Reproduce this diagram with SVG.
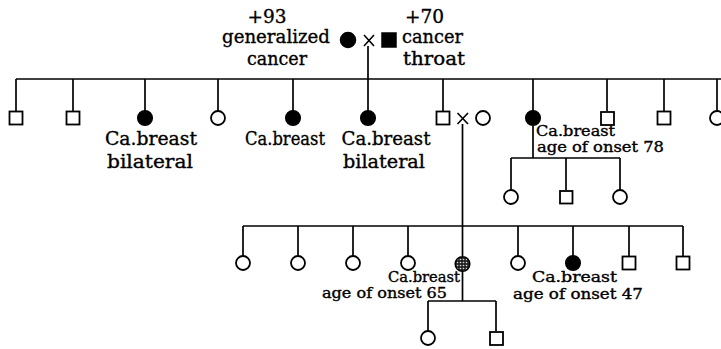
<svg xmlns="http://www.w3.org/2000/svg" width="721" height="349" viewBox="0 0 721 349">
<style>
.bg{fill:#fff}
.ln{stroke:#000;stroke-width:1.7;fill:none}
.m{fill:#fff;stroke:#000;stroke-width:1.8}
.f{fill:#000;stroke:#000;stroke-width:1.5}
.x{stroke:#000;stroke-width:1.6;fill:none}
.s{fill:url(#stip);stroke:#000;stroke-width:1.5}
text{font-family:"DejaVu Serif","Liberation Serif",serif;fill:#000;stroke:#000;stroke-width:0.35}
.t1{font-size:18.5px}
.t2{font-size:14px}
</style>
<defs>
<pattern id="stip" width="3" height="3" patternUnits="userSpaceOnUse">
<rect width="3" height="3" fill="#222"/>
<circle cx="1.5" cy="1.5" r="0.8" fill="#ddd"/>
</pattern>
</defs>
<rect class="bg" width="721" height="349"/>

<g id="connectors">
<line class="ln" x1="368" y1="46" x2="368" y2="79"/>
<line class="ln" x1="16" y1="79" x2="721" y2="79"/>
<line class="ln" x1="16" y1="79" x2="16" y2="111"/>
<line class="ln" x1="73" y1="79" x2="73" y2="111"/>
<line class="ln" x1="145" y1="79" x2="145" y2="111"/>
<line class="ln" x1="218" y1="79" x2="218" y2="111"/>
<line class="ln" x1="293" y1="79" x2="293" y2="111"/>
<line class="ln" x1="368" y1="79" x2="368" y2="111"/>
<line class="ln" x1="443" y1="79" x2="443" y2="111"/>
<line class="ln" x1="533" y1="79" x2="533" y2="111"/>
<line class="ln" x1="607" y1="79" x2="607" y2="111"/>
<line class="ln" x1="664" y1="79" x2="664" y2="111"/>
<line class="ln" x1="717" y1="79" x2="717" y2="111"/>
<line class="ln" x1="533" y1="126" x2="533" y2="158"/>
<line class="ln" x1="511" y1="158" x2="620" y2="158"/>
<line class="ln" x1="511" y1="158" x2="511" y2="190"/>
<line class="ln" x1="566" y1="158" x2="566" y2="190"/>
<line class="ln" x1="620" y1="158" x2="620" y2="190"/>
<line class="ln" x1="462.5" y1="124" x2="462.5" y2="256"/>
<line class="ln" x1="243" y1="226" x2="683" y2="226"/>
<line class="ln" x1="243" y1="226" x2="243" y2="256"/>
<line class="ln" x1="298" y1="226" x2="298" y2="256"/>
<line class="ln" x1="353" y1="226" x2="353" y2="256"/>
<line class="ln" x1="408" y1="226" x2="408" y2="256"/>
<line class="ln" x1="518" y1="226" x2="518" y2="256"/>
<line class="ln" x1="573" y1="226" x2="573" y2="256"/>
<line class="ln" x1="629" y1="226" x2="629" y2="256"/>
<line class="ln" x1="683" y1="226" x2="683" y2="256"/>
<line class="ln" x1="462.5" y1="271" x2="462.5" y2="301"/>
<line class="ln" x1="428" y1="301" x2="496" y2="301"/>
<line class="ln" x1="428" y1="301" x2="428" y2="331"/>
<line class="ln" x1="496" y1="301" x2="496" y2="331"/>
</g>

<g id="grandparents">
<circle class="f" cx="348" cy="40" r="7.5"/>
<path class="x" d="M364 35 L374 46 M374 35 L364 46"/>
<rect class="f" x="382" y="33" width="14" height="14"/>
<text class="t1" x="267" y="23" text-anchor="middle">+93</text>
<text class="t1" x="276" y="43" text-anchor="middle" textLength="108" lengthAdjust="spacingAndGlyphs">generalized</text>
<text class="t1" x="277" y="65" text-anchor="middle" textLength="60" lengthAdjust="spacingAndGlyphs">cancer</text>
<text class="t1" x="405" y="23">+70</text>
<text class="t1" x="402" y="43" textLength="61" lengthAdjust="spacingAndGlyphs">cancer</text>
<text class="t1" x="403" y="65" textLength="62" lengthAdjust="spacingAndGlyphs">throat</text>
</g>

<g id="g2-1"><rect class="m" x="9.5" y="111.5" width="13" height="13"/></g>
<g id="g2-2"><rect class="m" x="66.5" y="111.5" width="13" height="13"/></g>
<g id="g2-3"><circle class="f" cx="145" cy="118" r="7.3"/>
<text class="t1" x="151" y="145" text-anchor="middle" textLength="92" lengthAdjust="spacingAndGlyphs">Ca.breast</text>
<text class="t1" x="150" y="168" text-anchor="middle" textLength="86" lengthAdjust="spacingAndGlyphs">bilateral</text></g>
<g id="g2-4"><circle class="m" cx="218" cy="118" r="7"/></g>
<g id="g2-5"><circle class="f" cx="293" cy="118" r="7.3"/>
<text class="t1" x="285" y="145" text-anchor="middle" textLength="80" lengthAdjust="spacingAndGlyphs">Ca.breast</text></g>
<g id="g2-6"><circle class="f" cx="368" cy="118" r="7.3"/>
<text class="t1" x="386" y="145" text-anchor="middle" textLength="89" lengthAdjust="spacingAndGlyphs">Ca.breast</text>
<text class="t1" x="384" y="168" text-anchor="middle" textLength="82" lengthAdjust="spacingAndGlyphs">bilateral</text></g>
<g id="g2-7"><rect class="m" x="436.5" y="111.5" width="13" height="13"/></g>
<g id="marriage-x"><path class="x" d="M457.5 113 L468 124 M468 113 L457.5 124"/></g>
<g id="g2-7-spouse"><circle class="m" cx="483" cy="118" r="7"/></g>
<g id="g2-8"><circle class="f" cx="533" cy="118" r="7.3"/>
<text class="t2" x="536" y="136" textLength="79" lengthAdjust="spacingAndGlyphs">Ca.breast</text>
<text class="t2" x="537" y="152" textLength="127" lengthAdjust="spacingAndGlyphs">age of onset 78</text></g>
<g id="g2-9"><rect class="m" x="601" y="112" width="13" height="13"/></g>
<g id="g2-10"><rect class="m" x="657.5" y="111.5" width="13" height="13"/></g>
<g id="g2-11"><circle class="m" cx="717" cy="118" r="7"/></g>

<g id="g3a-1"><circle class="m" cx="511" cy="197" r="7"/></g>
<g id="g3a-2"><rect class="m" x="560" y="191" width="12.5" height="12.5"/></g>
<g id="g3a-3"><circle class="m" cx="620" cy="197" r="7"/></g>

<g id="g3-1"><circle class="m" cx="243" cy="263" r="7"/></g>
<g id="g3-2"><circle class="m" cx="298" cy="263" r="7"/></g>
<g id="g3-3"><circle class="m" cx="353" cy="263" r="7"/></g>
<g id="g3-4"><circle class="m" cx="408" cy="263" r="7"/></g>
<g id="g3-5"><circle class="s" cx="462.5" cy="264" r="7.3"/>
<text class="t2" x="388" y="282" textLength="72" lengthAdjust="spacingAndGlyphs">Ca.breast</text>
<text class="t2" x="322" y="298" textLength="125" lengthAdjust="spacingAndGlyphs">age of onset 65</text></g>
<g id="g3-6"><circle class="m" cx="518" cy="263" r="7"/></g>
<g id="g3-7"><circle class="f" cx="573" cy="263" r="7.3"/>
<text class="t2" x="532" y="282" textLength="85" lengthAdjust="spacingAndGlyphs">Ca.breast</text>
<text class="t2" x="513" y="299" textLength="130" lengthAdjust="spacingAndGlyphs">age of onset 47</text></g>
<g id="g3-8"><rect class="m" x="622.5" y="256.5" width="13" height="13"/></g>
<g id="g3-9"><rect class="m" x="676.5" y="256.5" width="13" height="13"/></g>

<g id="g4-1"><circle class="m" cx="428" cy="338" r="7"/></g>
<g id="g4-2"><rect class="m" x="490" y="332" width="13" height="13"/></g>
</svg>
